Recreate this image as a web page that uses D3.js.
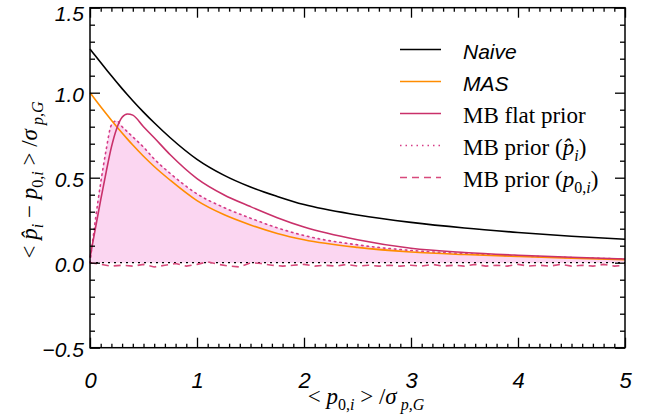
<!DOCTYPE html>
<html>
<head>
<meta charset="utf-8">
<script src="https://cdn.jsdelivr.net/npm/d3@7"></script>
<style>
  body { margin: 0; background: #fff; }
  svg { display: block; }
  .tick text { font-family: "Liberation Sans", Arial, sans-serif; font-style: italic; fill: #000; }
  .serif { font-family: "Liberation Serif", "Times New Roman", serif; fill: #000; }
</style>
</head>
<body>
<svg id="chart" width="648" height="417"></svg>
<script>
// ---------------------------------------------------------------------------
// Data: bias vs <p0,i>/sigma

const xs = [0, 0.05, 0.1, 0.15, 0.2, 0.25, 0.3, 0.35, 0.4, 0.5, 0.6, 0.75,
  1.0, 1.25, 1.5, 1.75, 2.0, 2.5, 3.0, 3.5, 4.0, 4.5, 5.0];

const naive = [1.257, 1.217, 1.177, 1.138, 1.099, 1.061, 1.024, 0.988, 0.953, 0.886, 0.823, 0.735,
  0.608, 0.515, 0.445, 0.39, 0.342, 0.281, 0.237, 0.204, 0.178, 0.156, 0.138];

const mas = [1.0, 0.958, 0.917, 0.877, 0.838, 0.80, 0.763, 0.727, 0.692, 0.626, 0.566, 0.485,
  0.365, 0.283, 0.222, 0.172, 0.135, 0.09, 0.063, 0.048, 0.037, 0.027, 0.018];

const mbFlat = [0.03, 0.2, 0.37, 0.53, 0.68, 0.79, 0.855, 0.875, 0.868, 0.80, 0.735, 0.635,
  0.495, 0.40, 0.33, 0.265, 0.21, 0.135, 0.085, 0.06, 0.044, 0.032, 0.022];

const mbPriorHat = [0.0, 0.25, 0.47, 0.66, 0.81, 0.835, 0.80, 0.77, 0.74, 0.68, 0.61, 0.525,
  0.405, 0.325, 0.262, 0.205, 0.16, 0.105, 0.072, 0.053, 0.04, 0.03, 0.022];

const dashX = [0, 0.1, 0.2, 0.3, 0.4, 0.5, 0.6, 0.7, 0.8, 0.9, 1.0, 1.1, 1.2, 1.3, 1.4,
  1.5, 1.6, 1.7, 1.8, 1.9, 2.0, 2.1, 2.2, 2.3, 2.4, 2.5, 2.6, 2.7, 2.8, 2.9, 3.0, 3.1,
  3.2, 3.3, 3.4, 3.5, 3.6, 3.7, 3.8, 3.9, 4.0, 4.1, 4.2, 4.3, 4.4, 4.5, 4.6, 4.7, 4.8,
  4.9, 5.0];

const mbPriorP0 = [0.0, -0.01, -0.02, -0.015, -0.02, -0.01, -0.025, -0.015, -0.005, -0.02,
  -0.01, 0.005, -0.01, -0.02, -0.025, 0.0, -0.005, -0.015, -0.02, -0.015, -0.01, -0.02,
  -0.015, -0.02, -0.01, -0.02, -0.015, -0.02, -0.015, -0.02, -0.015, -0.02, -0.01, -0.02,
  -0.015, -0.02, -0.01, -0.02, -0.015, -0.02, -0.01, -0.02, -0.015, -0.02, -0.01, -0.02,
  -0.015, -0.02, -0.01, -0.02, -0.015];

const xMajor = [0, 1, 2, 3, 4, 5];
const yMajor = [-0.5, 0.0, 0.5, 1.0, 1.5];

// ---------------------------------------------------------------------------
// Layout

const svg = d3.select("#chart");
const plotLeft = 90, plotRight = 625, plotTop = 7.7, plotBottom = 347.7;

const x = d3.scaleLinear().domain([0, 5]).range([plotLeft, plotRight]);
const y = d3.scaleLinear().domain([-0.5, 1.5]).range([plotBottom, plotTop]);

const xMinor = d3.range(0, 51).map((i) => i / 10).filter((v) => !xMajor.includes(v));
const yMinor = d3.range(-5, 16).map((i) => i / 10).filter((v) => !yMajor.some((m) => Math.abs(m - v) < 1e-9));

const colors = {
  naive: "#000000",
  mas: "#ff8c00",
  flat: "#c9306a",
  hat: "#d63c86",
  p0: "#d84a7c",
  fill: "#fbd6f1"
};

// shaded region under the MB prior (p̂) curve
const pts = (ys, xv = xs) => xv.map((v, i) => [v, ys[i]]);

svg.append("path")
  .datum(pts(mbPriorHat))
  .attr("fill", colors.fill)
  .attr("d", d3.area()
    .x((d) => x(d[0]))
    .y0(y(0))
    .y1((d) => y(d[1]))
    .curve(d3.curveMonotoneX));

// zero reference line
svg.append("line")
  .attr("x1", x(0)).attr("x2", x(5))
  .attr("y1", y(0)).attr("y2", y(0))
  .attr("stroke", "#000")
  .attr("stroke-width", 1.3)
  .attr("stroke-dasharray", "2,4");

const line = d3.line()
  .x((d) => x(d[0]))
  .y((d) => y(d[1]));

const series = [
  { data: pts(mbPriorP0, dashX), color: colors.p0, dash: "7,5", curve: d3.curveLinear },
  { data: pts(mbPriorHat), color: colors.hat, dash: "1.5,4" },
  { data: pts(mas), color: colors.mas },
  { data: pts(mbFlat), color: colors.flat },
  { data: pts(naive), color: colors.naive }
];

series.forEach((s) => {
  svg.append("path")
    .datum(s.data)
    .attr("fill", "none")
    .attr("stroke", s.color)
    .attr("stroke-width", 1.6)
    .attr("stroke-dasharray", s.dash || null)
    .attr("stroke-linecap", s.dash === "1.5,4" ? "round" : "butt")
    .attr("d", line.curve(s.curve || d3.curveMonotoneX)(s.data));
});

// ---------------------------------------------------------------------------
// Axes (ticks point inward, mirrored on top/right)

const styleAxis = (g) => {
  g.select(".domain").remove();
  g.selectAll(".tick line").attr("stroke", "#000").attr("stroke-width", 1.3);
};

svg.append("g")
  .attr("transform", `translate(0,${plotBottom})`)
  .call(d3.axisBottom(x).tickValues(xMajor).tickSize(-10).tickPadding(25).tickFormat(d3.format("d")))
  .call(styleAxis)
  .call((g) => g.selectAll(".tick text").attr("font-size", 22));

svg.append("g")
  .attr("transform", `translate(0,${plotBottom})`)
  .call(d3.axisBottom(x).tickValues(xMinor).tickSize(-4).tickFormat(""))
  .call(styleAxis);

svg.append("g")
  .attr("transform", `translate(0,${plotTop})`)
  .call(d3.axisTop(x).tickValues(xMajor).tickSize(-10).tickFormat(""))
  .call(styleAxis);

svg.append("g")
  .attr("transform", `translate(0,${plotTop})`)
  .call(d3.axisTop(x).tickValues(xMinor).tickSize(-4).tickFormat(""))
  .call(styleAxis);

svg.append("g")
  .attr("transform", `translate(${plotLeft},0)`)
  .call(d3.axisLeft(y).tickValues(yMajor).tickSize(-10).tickPadding(6).tickFormat(d3.format(".1f")))
  .call(styleAxis)
  .call((g) => g.selectAll(".tick text")
    .attr("font-size", 21)
    .attr("dy", (d) => (d === 1.5 ? "0.6em" : "0.4em")));

svg.append("g")
  .attr("transform", `translate(${plotLeft},0)`)
  .call(d3.axisLeft(y).tickValues(yMinor).tickSize(-5).tickFormat(""))
  .call(styleAxis);

svg.append("g")
  .attr("transform", `translate(${plotRight},0)`)
  .call(d3.axisRight(y).tickValues(yMajor).tickSize(-10).tickFormat(""))
  .call(styleAxis);

svg.append("g")
  .attr("transform", `translate(${plotRight},0)`)
  .call(d3.axisRight(y).tickValues(yMinor).tickSize(-5).tickFormat(""))
  .call(styleAxis);

svg.append("rect")
  .attr("x", plotLeft).attr("y", plotTop)
  .attr("width", plotRight - plotLeft).attr("height", plotBottom - plotTop)
  .attr("fill", "none")
  .attr("stroke", "#000")
  .attr("stroke-width", 1.5);

// ---------------------------------------------------------------------------
// Math-ish labels built from tspans: [text, italic?, subscript?]

const mathText = (sel, parts, size, subSize) => {
  let shift = 0;
  parts.forEach(([t, it, sub]) => {
    const target = sub ? size * 0.28 : 0;
    sel.append("tspan")
      .text(t)
      .attr("font-size", sub ? subSize : size)
      .attr("font-style", it ? "italic" : "normal")
      .attr("dy", target - shift);
    shift = target;
  });
};

const xLabel = svg.append("text")
  .attr("class", "serif")
  .attr("x", 366).attr("y", 404)
  .attr("text-anchor", "middle");
mathText(xLabel, [
  ["< ", 0], ["p", 1], ["0,", 0, 1], ["i", 1, 1],
  [" > /", 0], ["σ", 1], [" p,G", 1, 1]
], 23, 16);

const yLabel = svg.append("text")
  .attr("class", "serif")
  .attr("transform", `translate(37,180) rotate(-90)`)
  .attr("text-anchor", "middle");
mathText(yLabel, [
  ["< ", 0], ["p\u0302", 1], ["i", 1, 1], [" − ", 0], ["p", 1], ["0,", 0, 1], ["i", 1, 1],
  [" > /", 0], ["σ", 1], [" p,G", 1, 1]
], 23, 16);

// ---------------------------------------------------------------------------
// Legend

const legendRows = [
  { color: colors.naive, dash: null, label: [["Naive", 1]], sans: true },
  { color: colors.mas, dash: null, label: [["MAS", 1]], sans: true },
  { color: colors.flat, dash: null, label: [["MB flat prior", 0]] },
  { color: colors.hat, dash: "1.5,4", label: [["MB prior (", 0], ["p\u0302", 1], ["i", 1, 1], [")", 0]] },
  { color: colors.p0, dash: "7,5", label: [["MB prior (", 0], ["p", 1], ["0,", 0, 1], ["i", 1, 1], [")", 0]] }
];

const legend = svg.append("g");
legendRows.forEach((r, i) => {
  const ly = 49.5 + i * 32;
  legend.append("line")
    .attr("x1", 400).attr("x2", 441)
    .attr("y1", ly).attr("y2", ly)
    .attr("stroke", r.color)
    .attr("stroke-width", 1.6)
    .attr("stroke-dasharray", r.dash);
  const t = legend.append("text")
    .attr("x", 463).attr("y", ly + 9);
  if (r.sans) {
    t.attr("font-family", "Liberation Sans, Arial, sans-serif")
      .attr("font-style", "italic")
      .attr("font-size", 21)
      .text(r.label[0][0]);
  } else {
    t.attr("class", "serif");
    mathText(t, r.label, 23, 16);
  }
});
</script>
</body>
</html>
